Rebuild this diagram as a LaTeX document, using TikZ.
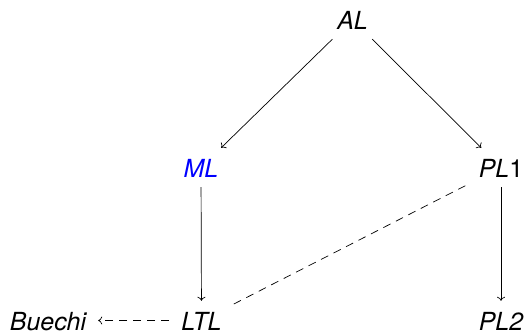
\documentclass[tikz,border=0pt]{standalone}
\usepackage{fontspec}
\setmainfont{TeX Gyre Heros}
\usetikzlibrary{arrows.meta}
\begin{document}
\begin{tikzpicture}[x=1bp,y=1bp,
  lbl/.style={font=\fontsize{25}{28}\selectfont\itshape, anchor=base,
    text height=19bp, text depth=0bp, inner xsep=12bp, inner ysep=10bp},
  arr/.style={-{To[length=4bp,width=8bp]}, line width=0.7bp},
  dsh/.style={dash pattern=on 8bp off 6bp, line width=0.7bp}]
\useasboundingbox (0,0) rectangle (528,335);
\node[lbl] (AL) at (352.5,306) {AL};
\node[lbl, text=blue] (ML) at (201,158) {ML};
\node[lbl] (PL1) at (501,158) {PL\upshape 1};
\node[lbl] (LTL) at (201.5,5) {LTL};
\node[lbl] (PL2) at (501,5) {PL2};
\node[lbl] (B) at (48,5) {Buechi};
\draw[arr] (AL) -- (ML);
\draw[arr] (AL) -- (PL1);
\draw[arr] (ML) -- (LTL);
\draw[arr] (PL1) -- (PL2);
\draw[dsh] (LTL) -- (PL1);
\draw[dsh, arr] (LTL) -- (B);
\end{tikzpicture}
\end{document}
